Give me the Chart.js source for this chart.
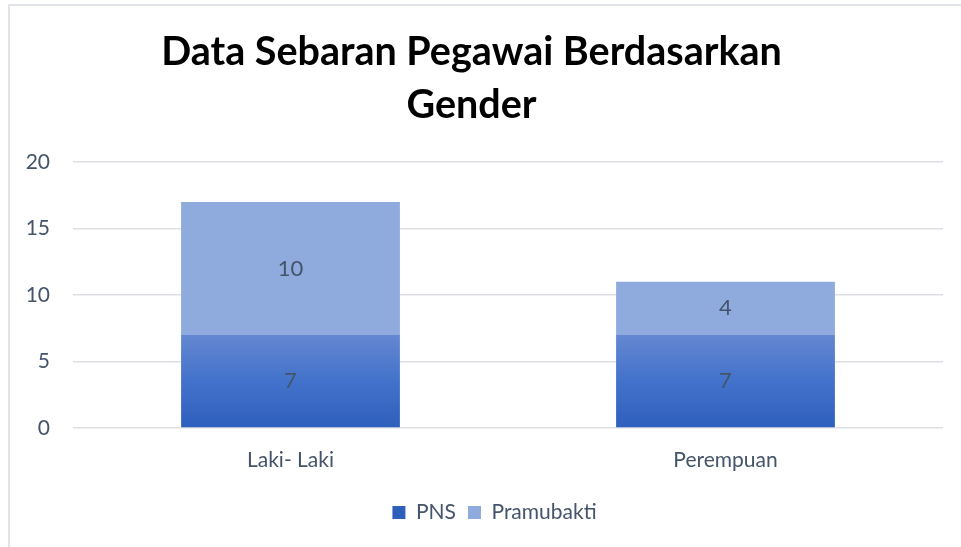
<!DOCTYPE html>
<html>
<head>
<meta charset="utf-8">
<script src="https://cdn.jsdelivr.net/npm/chart.js@4"></script>
<style>
  html, body { margin: 0; padding: 0; background: #fff; }
  #wrap { position: relative; width: 961px; height: 547px; }
  #frame { position: absolute; left: 8px; top: 4px; width: 970px; height: 560px; border: 2px solid #e1e4e8; box-sizing: border-box; }
  canvas { position: absolute; left: 0; top: 0; }
</style>
</head>
<body>
<div id="wrap">
  <div id="frame"></div>
  <canvas id="chartGender" width="961" height="547"></canvas>
</div>
<script>
// --- DATA ---
const categories = ['Laki- Laki', 'Perempuan'];
const pnsValues = [7, 7];
const pramubaktiValues = [10, 4];
const yTicks = [0, 5, 10, 15, 20];

const textColor = '#44546a';
const fontFamily = 'Lato, "Noto Sans", sans-serif';

// label angka di tengah tiap segmen
const barLabels = {
    id: 'barLabels',
    afterDatasetsDraw(chart) {
        const ctx = chart.ctx;
        ctx.save();
        ctx.font = '22px ' + fontFamily;
        ctx.fillStyle = textColor;
        ctx.textAlign = 'center';
        ctx.textBaseline = 'middle';
        chart.data.datasets.forEach((ds, i) => {
            chart.getDatasetMeta(i).data.forEach((bar, j) => {
                const p = bar.getProps(['x', 'y', 'base'], true);
                ctx.fillText(ds.data[j], p.x, (p.y + p.base) / 2);
            });
        });
        ctx.restore();
    }
};

// geser legend sedikit ke kanan seperti di Excel
const legendShift = {
    id: 'legendShift',
    afterLayout(chart) {
        chart.legend.left += 23;
        chart.legend.right += 23;
    }
};

const ctx = document.getElementById('chartGender');
new Chart(ctx, {
    type: 'bar',
    data: {
        labels: categories,
        datasets: [
            {
                label: 'PNS',
                data: pnsValues,
                backgroundColor: (c) => {
                    const chart = c.chart;
                    const area = chart.chartArea;
                    if (!area) return '#3f6fc8';
                    const y = chart.scales.y;
                    const g = chart.ctx.createLinearGradient(0, y.getPixelForValue(Math.max(...pnsValues)), 0, y.getPixelForValue(0));
                    g.addColorStop(0, '#6487d0');
                    g.addColorStop(0.5, '#4272cb');
                    g.addColorStop(1, '#2f5fbd');
                    return g;
                },
                borderWidth: 0
            },
            {
                label: 'Pramubakti',
                data: pramubaktiValues,
                backgroundColor: '#8faadc',
                borderWidth: 0
            }
        ]
    },
    options: {
        responsive: false,
        animation: false,
        datasets: { bar: { categoryPercentage: 1, barPercentage: 0.503 } },
        layout: { padding: { left: 0, right: 18, top: 0, bottom: 14 } },
        scales: {
            x: {
                stacked: true,
                grid: { display: false },
                border: { display: false },
                ticks: { color: textColor, font: { family: fontFamily, size: 21 }, padding: 12 },
                afterFit: (s) => { s.height = 62; }
            },
            y: {
                stacked: true,
                min: 0,
                max: 20,
                afterBuildTicks: (s) => { s.ticks = yTicks.map(v => ({ value: v })); },
                grid: { color: '#dcdfe4', lineWidth: 1.5, drawTicks: false },
                border: { display: false },
                ticks: { color: textColor, font: { family: fontFamily, size: 21 }, padding: 23 },
                afterFit: (s) => { s.width = 73; }
            }
        },
        plugins: {
            title: {
                display: true,
                text: ['Data Sebaran Pegawai Berdasarkan', 'Gender'],
                color: '#000',
                font: { family: fontFamily, size: 39.5, weight: 'bold', lineHeight: 1.33 },
                padding: { top: 26, bottom: 31 }
            },
            legend: {
                position: 'bottom',
                labels: {
                    color: textColor,
                    font: { family: fontFamily, size: 21 },
                    boxWidth: 13,
                    boxHeight: 13,
                    padding: 12
                }
            },
            tooltip: { enabled: false }
        }
    },
    plugins: [barLabels, legendShift]
});
</script>
</body>
</html>
